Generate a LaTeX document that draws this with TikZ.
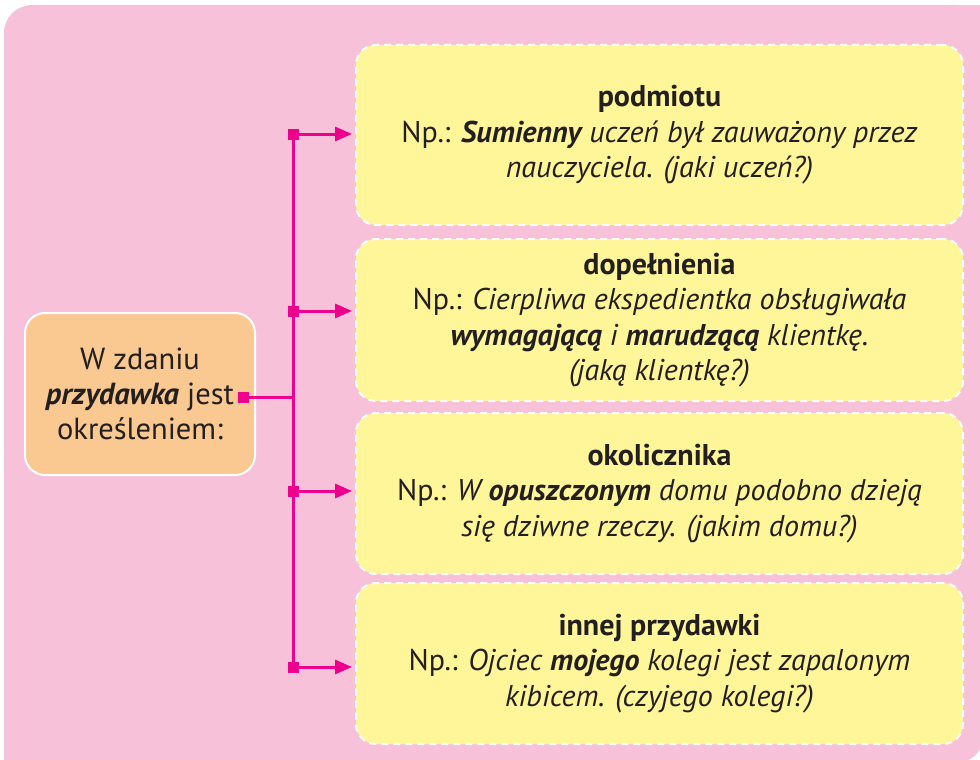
\documentclass[tikz,border=0pt]{standalone}
\usepackage{fontspec}
\setmainfont{PT Sans}
\usetikzlibrary{arrows.meta}
\definecolor{bgpink}{HTML}{F7C1DA}
\definecolor{boxyellow}{HTML}{FFF599}
\definecolor{boxorange}{HTML}{FAC991}
\definecolor{magentaline}{HTML}{EC008C}
\definecolor{txt}{HTML}{231F20}
\tikzset{
  yellowbox/.style={fill=boxyellow, draw=white, line width=2pt, dash pattern=on 7pt off 5pt,
    rounded corners=20pt, minimum width=607pt, align=center, text=txt, inner sep=0pt,
    font={\fontsize{30pt}{35.5pt}\selectfont}},
  orangebox/.style={fill=boxorange, draw=white, line width=2pt, rounded corners=20pt,
    minimum width=230pt, minimum height=162pt, align=center, text=txt, inner sep=0pt,
    font={\fontsize{30.5pt}{35pt}\selectfont}},
  sqmark/.style={fill=magentaline, draw=none, minimum size=11pt, inner sep=0pt},
  conn/.style={draw=magentaline, line width=3pt},
  arr/.style={conn, -{Triangle[length=17pt,width=14pt]}, shorten >=3pt}
}
\begin{document}
\begin{tikzpicture}[x=1pt,y=-1pt]
\useasboundingbox (0,0) rectangle (980,760);
% background
\fill[bgpink, rounded corners=28pt] (4,5) rectangle (984,763);
\fill[bgpink] (900,5) rectangle (980,100);
\fill[bgpink] (4,680) rectangle (100,760);

% target boxes
\node[yellowbox, minimum height=180pt] (b1) at (659.5,135) {\textbf{podmiotu}\\
  Np.: \textit{\textbf{Sumienny} uczeń był zauważony przez}\\
  \textit{nauczyciela. (jaki uczeń?)}};
\node[yellowbox, minimum height=162pt] (b2) at (659.5,320) {\textbf{dopełnienia}\\
  Np.: \textit{Cierpliwa ekspedientka obsługiwała}\\
  \textit{\textbf{wymagającą} i \textbf{marudzącą} klientkę.}\\
  \textit{(jaką klientkę?)}};
\node[yellowbox, minimum height=161pt] (b3) at (659.5,493.5) {\textbf{okolicznika}\\
  Np.: \textit{W \textbf{opuszczonym} domu podobno dzieją}\\
  \textit{się dziwne rzeczy. (jakim domu?)}};
\node[yellowbox, minimum height=161pt] (b4) at (659.5,663.5) {\textbf{innej przydawki}\\
  Np.: \textit{Ojciec \textbf{mojego} kolegi jest zapalonym}\\
  \textit{kibicem. (czyjego kolegi?)}};

% source box
\node[orangebox] (src) at (140,394) {W zdaniu\\ \textit{\textbf{przydawka}} jest\\ określeniem:};

% junction markers
\node[sqmark] (m1) at (293,134) {};
\node[sqmark] (m2) at (293,311) {};
\node[sqmark] (m3) at (293,491) {};
\node[sqmark] (m4) at (293,667) {};
\node[sqmark] (s) at (243,397) {};

% connectors
\draw[conn] (m1.center) -- (m4.center);
\draw[conn] (s.center) -- (s -| m1);
\draw[arr] (m1.center) -- (m1 -| b1.west);
\draw[arr] (m2.center) -- (m2 -| b2.west);
\draw[arr] (m3.center) -- (m3 -| b3.west);
\draw[arr] (m4.center) -- (m4 -| b4.west);
\end{tikzpicture}
\end{document}
